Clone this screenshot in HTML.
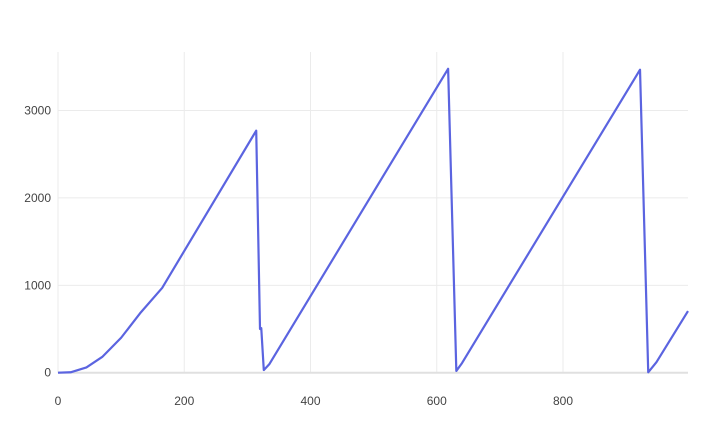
<!DOCTYPE html>
<html><head><meta charset="utf-8"><style>
body{margin:0;background:#fff;font-family:"Liberation Sans",sans-serif}
svg{display:block}
text{font-size:12px;fill:#444}
</style></head><body>
<svg id="c" width="704" height="422">
<g id="grid"></g>
<g id="series"></g>
<g id="axes"></g>
</svg>
<script>
const xs=[0,20,45,70,100,130,165,314,320,322,326,335,618,631,640,922,935,948,998];
const ys=[0,5,60,180,400,680,970,2770,500,510,30,100,3478,20,110,3467,5,120,705];
const xTicks=[0,200,400,600,800];
const yTicks=[0,1000,2000,3000];
const X0=58,X1=688,Y0=372.7,Y1=52,xmax=998,ymax=3670;
const sx=v=>X0+v/xmax*(X1-X0);
const sy=v=>Y0-v/ymax*(Y0-Y1);
const NS="http://www.w3.org/2000/svg";
const grid=document.getElementById('grid'),axes=document.getElementById('axes'),ser=document.getElementById('series');
function mk(tag,attrs,parent){const e=document.createElementNS(NS,tag);for(const k in attrs)e.setAttribute(k,attrs[k]);parent.appendChild(e);return e;}
xTicks.forEach(t=>{
  const l=mk('line',{x1:sx(t),x2:sx(t),y1:Y1,y2:Y0,stroke:'#ebebeb','stroke-width':1},grid);
  
  
  const tx=mk('text',{x:sx(t),y:405,'text-anchor':'middle'},axes);tx.textContent=t;
  
  
});
yTicks.forEach(t=>{
  const l=mk('line',{x1:X0,x2:X1,y1:sy(t),y2:sy(t),stroke:t===0?'#e0e0e0':'#ebebeb','stroke-width':t===0?2:1},grid);
  
  
  const tx=mk('text',{x:51,y:sy(t)+4,'text-anchor':'end'},axes);tx.textContent=t;
  
  
});
const p=mk('polyline',{points:xs.map((x,i)=>sx(x)+','+sy(ys[i])).join(' '),fill:'none',stroke:'#5b64e0','stroke-width':2.2,'stroke-linejoin':'round'},ser);


</script>
</body></html>
